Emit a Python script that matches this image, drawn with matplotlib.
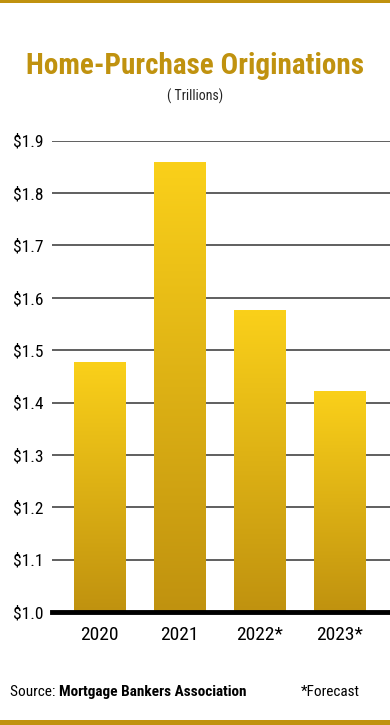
import numpy as np
import matplotlib
matplotlib.use("Agg")
import matplotlib.pyplot as plt
from matplotlib.patches import Rectangle

years = ["2020", "2021", "2022*", "2023*"]
values = [1.477, 1.859, 1.576, 1.422]
yticks = [1.0, 1.1, 1.2, 1.3, 1.4, 1.5, 1.6, 1.7, 1.8, 1.9]
ytick_labels = ["$1.0", "$1.1", "$1.2", "$1.3", "$1.4", "$1.5", "$1.6", "$1.7", "$1.8", "$1.9"]

GOLD = "#C0920F"
TOP = "#FAD01A"
FONT = ["Liberation Sans Narrow", "Roboto Condensed", "Roboto", "DejaVu Sans"]
plt.rcParams["font.family"] = FONT

W, H = 390, 725
fig = plt.figure(figsize=(W / 100, H / 100), dpi=100)

# gold rules top and bottom
fig.add_artist(Rectangle((0, 1 - 3 / H), 1, 3 / H, transform=fig.transFigure, color=GOLD, lw=0))
fig.add_artist(Rectangle((0, 0), 1, 5 / H, transform=fig.transFigure, color=GOLD, lw=0))

fig.text(0.5, 1 - 66 / H, "Home-Purchase Originations", ha="center", va="center",
         fontsize=21, fontweight="bold", color=GOLD)
fig.text(0.5, 1 - 96 / H, "( Trillions)", ha="center", va="center", fontsize=10, color="#222222")

ax = fig.add_axes([52 / W, 1 - 612 / H, 1 - 52 / W, (612 - 140.7) / H])
x = np.arange(len(years))

# vertical gold gradient inside each bar
grad = np.linspace(0, 1, 256).reshape(-1, 1)
cmap = matplotlib.colors.LinearSegmentedColormap.from_list("g", [GOLD, TOP])
bw = 0.64
for xi, v in zip(x, values):
    r = Rectangle((xi - bw / 2, 1.0), bw, v - 1.0, facecolor="none", edgecolor="none")
    ax.add_patch(r)
    im = ax.imshow(grad, cmap=cmap, aspect="auto", origin="lower",
                   extent=(xi - bw / 2, xi + bw / 2, 1.0, v), zorder=2)
    im.set_clip_path(r)
ax.set_xlim(-0.594, 3.63)
ax.set_ylim(1.0, 1.9)

for yv in yticks[1:]:
    ax.axhline(yv, color="#444444", lw=1.2, zorder=1)
ax.axhline(1.0, color="black", lw=3.5, zorder=3, clip_on=False)

ax.set_yticks(yticks)
ax.set_yticklabels(ytick_labels, fontsize=12.5)
ax.set_xticks(x)
ax.set_xticklabels(years, fontsize=14)
ax.tick_params(axis="y", length=0, pad=6)
ax.tick_params(axis="x", length=0, pad=10)
for s in ax.spines.values():
    s.set_visible(False)

t = fig.text(10 / W, 1 - 692 / H, "Source: ", ha="left", va="center", fontsize=11)
fig.canvas.draw()
bb = t.get_window_extent()
fig.text(bb.x1 / W, 1 - 692 / H, "Mortgage Bankers Association", ha="left", va="center",
         fontsize=11, fontweight="bold")
fig.text(360 / W, 1 - 692 / H, "*Forecast", ha="right", va="center", fontsize=11)

fig.savefig("out.png", dpi=100)
